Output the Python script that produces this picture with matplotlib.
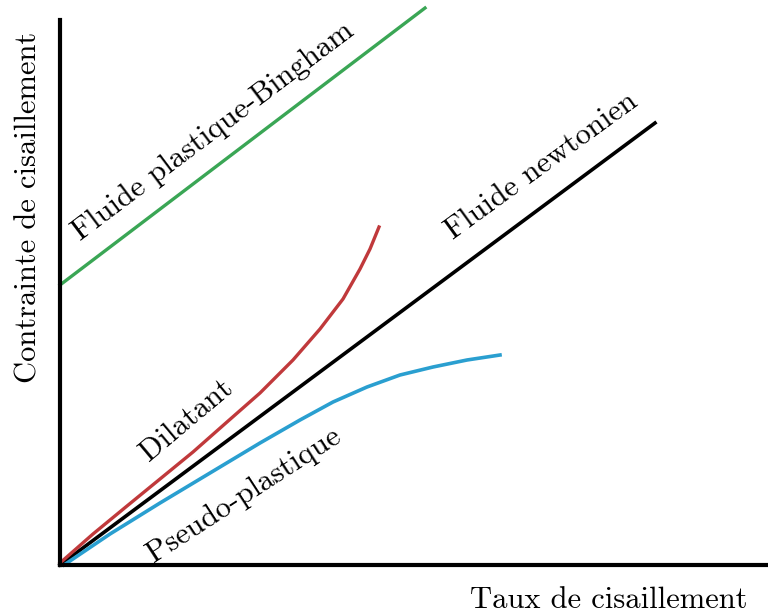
import matplotlib
matplotlib.use('Agg')
import matplotlib.pyplot as plt

plt.rcParams['font.family'] = ['cmr10', 'DejaVu Serif']
plt.rcParams['axes.formatter.use_mathtext'] = True

# curves (x: shear rate, y: shear stress, arbitrary units)
bingham_x = [0, 365]
bingham_y = [280, 557]

newton_x = [0, 595]
newton_y = [0, 442]

dilatant_x = [0, 33, 67, 100, 133, 167, 200, 233, 260, 283, 300, 310, 319]
dilatant_y = [2, 31, 59, 86, 113, 143, 172, 205, 236, 266, 296, 316, 338]

pseudo_x = [4, 50, 100, 150, 200, 240, 273, 307, 340, 373, 407, 440]
pseudo_y = [0, 31, 62, 92, 122, 145, 163, 178, 190, 198, 205, 210]

fig = plt.figure(figsize=(7.68, 6.14), dpi=100)
ax = fig.add_axes([60 / 768, 49 / 614, 708 / 768, 545 / 614])
ax.set_xlim(0, 708)
ax.set_ylim(0, 545)

ax.plot(bingham_x, bingham_y, color='#3aa655', lw=2.4, clip_on=False)
ax.plot(newton_x, newton_y, color='black', lw=2.6, clip_on=False)
ax.plot(dilatant_x, dilatant_y, color='#c0393b', lw=2.4, clip_on=False,
        solid_joinstyle='round')
ax.plot(pseudo_x, pseudo_y, color='#2a9fd0', lw=2.6, clip_on=False,
        solid_joinstyle='round')

ax.text(153, 434, 'Fluide plastique-Bingham', rotation=37, fontsize=22,
        ha='center', va='center', rotation_mode='anchor')
ax.text(482, 399, 'Fluide newtonien', rotation=36, fontsize=22,
        ha='center', va='center', rotation_mode='anchor')
ax.text(127, 145, 'Dilatant', rotation=40, fontsize=22,
        ha='center', va='center', rotation_mode='anchor')
ax.text(184, 70, 'Pseudo-plastique', rotation=33, fontsize=22,
        ha='center', va='center', rotation_mode='anchor')

ax.spines['top'].set_visible(False)
ax.spines['right'].set_visible(False)
ax.spines['left'].set_linewidth(3)
ax.spines['bottom'].set_linewidth(3)
ax.set_xticks([])
ax.set_yticks([])

fig.text(748 / 768, 1 - 600 / 614, 'Taux de cisaillement', fontsize=22,
         ha='right', va='center')
fig.text(29 / 768, 1 - 207 / 614, 'Contrainte de cisaillement', fontsize=22,
         ha='center', va='center', rotation=90)

fig.savefig('out.png', dpi=100)
